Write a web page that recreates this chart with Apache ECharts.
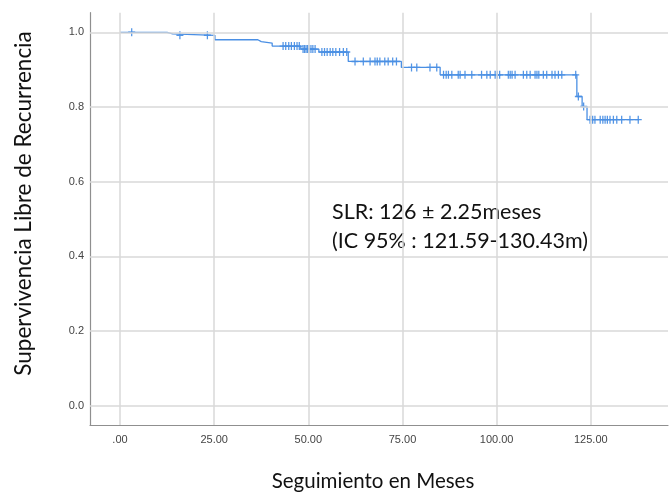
<!DOCTYPE html>
<html>
<head>
<meta charset="utf-8">
<script src="https://cdn.jsdelivr.net/npm/echarts@6/dist/echarts.min.js"></script>
<style>
  html, body { margin: 0; padding: 0; background: #fff; }
  #chart { width: 669px; height: 493px; }
</style>
</head>
<body>
<div id="chart"></div>
<script>
// Kaplan-Meier estimate: event times (months) and survival after each event
const eventTimes = [0, 12.5, 14.0, 25.2, 36.6, 37.5, 40.4, 48.0, 52.8, 60.6, 74.7, 85.0, 121.3, 122.7, 124.0, 137.8];
const survival   = [1.0, 0.996, 0.992, 0.980, 0.975, 0.971, 0.963, 0.955, 0.947, 0.922, 0.906, 0.886, 0.828, 0.801, 0.766, 0.766];

// Censored observations (months)
const censorTimes = [
  3.1, 15.9, 23.2,
  43.3, 44.0, 44.8, 45.5, 46.3, 47.0, 47.6,
  48.6, 49.0, 49.4, 49.8, 50.2, 50.7, 51.2, 51.8,
  53.6, 54.3, 55.0, 55.8, 56.5, 57.3, 58.3, 59.3, 60.2,
  62.4, 64.6, 66.4, 67.7, 68.3, 69.0, 70.3, 71.2, 72.4, 73.4,
  77.4, 78.8, 82.3, 84.1,
  85.9, 86.6, 87.2, 88.1, 89.8, 90.3, 91.6, 93.4, 96.0, 97.4, 98.3, 99.6,
  100.2, 100.8, 103.1, 103.6, 104.1, 104.9, 107.1, 108.0, 108.9, 110.2, 110.7,
  111.2, 112.4, 113.3, 114.7, 115.5, 116.4, 117.3, 121.0,
  121.7, 123.1,
  124.8, 125.5, 126.1, 127.5, 128.2, 128.8, 129.4, 130.1, 131.0, 131.9,
  133.2, 135.4, 137.6
];

const xTicks = [0, 25, 50, 75, 100, 125];
const yTicks = [0, 0.2, 0.4, 0.6, 0.8, 1.0];

const yTitle = 'Supervivencia Libre de Recurrencia';
const xTitle = 'Seguimiento en Meses';
const noteLines = ['SLR: 126 \u00b1 2.25meses', '(IC 95% : 121.59-130.43m)'];

// survival level in force at time t (step function)
function survivalAt(t) {
  let s = survival[0];
  for (let i = 0; i < eventTimes.length; i++) {
    if (eventTimes[i] <= t) s = survival[i];
  }
  return s;
}

const curve = eventTimes.map((t, i) => [t, survival[i]]);
const censors = censorTimes.map(t => [t, survivalAt(t)]);

const blue = '#4a8fe4';
const gridColor = '#d8d8d8';
const textFont = 'Lato';

const chart = echarts.init(document.getElementById('chart'), null, { renderer: 'canvas' });

chart.setOption({
  animation: false,
  backgroundColor: '#fff',
  grid: { left: 90, right: 1, top: 12.7, bottom: 68, containLabel: false },
  xAxis: {
    type: 'value',
    min: -7.97,
    max: 145.5,
    splitLine: { show: false },
    axisTick: { show: false },
    axisLine: { show: true, onZero: false, lineStyle: { color: '#8f8f8f', width: 1.2 } },
    axisLabel: {
      customValues: xTicks,
      margin: 9,
      color: '#444',
      fontFamily: 'Liberation Sans',
      fontSize: 11,
      formatter: v => v === 0 ? '.00' : v.toFixed(2)
    }
  },
  yAxis: {
    type: 'value',
    min: -0.052,
    max: 1.0525,
    splitLine: { show: false },
    axisTick: { show: false },
    axisLine: { show: true, onZero: false, lineStyle: { color: '#8f8f8f', width: 1.2 } },
    axisLabel: {
      customValues: yTicks,
      margin: 6,
      color: '#444',
      fontFamily: 'Liberation Sans',
      fontSize: 11,
      formatter: v => v.toFixed(1)
    }
  },
  series: [
    {
      // reference grid
      type: 'line',
      data: [],
      z: 1,
      silent: true,
      markLine: {
        silent: true,
        symbol: 'none',
        label: { show: false },
        lineStyle: { color: gridColor, width: 1.5, type: 'solid' },
        data: xTicks.map(v => ({ xAxis: v })).concat(yTicks.map(v => ({ yAxis: v })))
      }
    },
    {
      type: 'line',
      data: curve,
      step: 'end',
      showSymbol: false,
      z: 3,
      lineStyle: { color: blue, width: 1.3 }
    },
    {
      type: 'scatter',
      data: censors,
      z: 4,
      symbol: 'path://M4.1,0h1.8v4.1h4.1v1.8h-4.1v4.1h-1.8v-4.1h-4.1v-1.8h4.1z',
      symbolSize: [7, 8],
      itemStyle: { color: blue, opacity: 0.95 }
    }
  ],
  graphic: [
    {
      type: 'text',
      x: 24, y: 203.5,
      rotation: Math.PI / 2,
      style: {
        text: yTitle, fill: '#111', font: '22.5px ' + textFont,
        align: 'center', verticalAlign: 'middle'
      }
    },
    {
      type: 'text',
      x: 373, y: 481,
      style: {
        text: xTitle, fill: '#111', font: '20.5px ' + textFont,
        align: 'center', verticalAlign: 'middle'
      }
    },
    {
      type: 'text',
      x: 332, y: 212,
      style: {
        text: noteLines[0], fill: '#111', font: '21.5px ' + textFont,
        align: 'left', verticalAlign: 'middle'
      }
    },
    {
      type: 'text',
      x: 332, y: 241,
      style: {
        text: noteLines[1], fill: '#111', font: '21.5px ' + textFont,
        align: 'left', verticalAlign: 'middle'
      }
    }
  ]
});
</script>
</body>
</html>
